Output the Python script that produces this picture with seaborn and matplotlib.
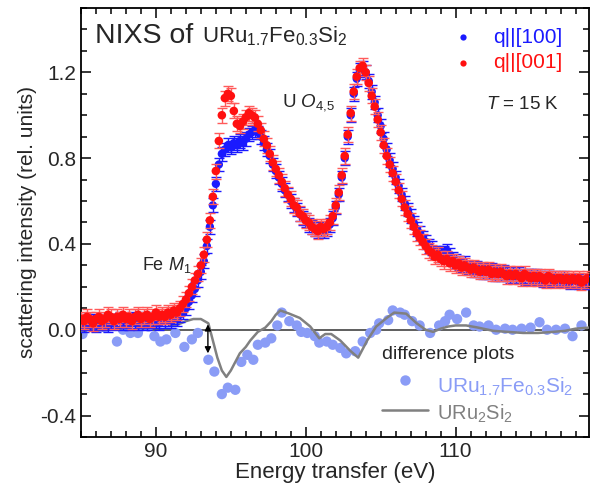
import numpy as np
import pandas as pd
import matplotlib
matplotlib.use("Agg")
import matplotlib.pyplot as plt
from matplotlib.ticker import MultipleLocator
import seaborn as sns

# ---------------- data ----------------
energy = [round(85.0 + 0.2 * i, 1) for i in range(170)]

q001 = [0.05, 0.04, 0.06, 0.05, 0.03, 0.05, 0.06, 0.04, 0.05, 0.07,
        0.06, 0.04, 0.06, 0.05, 0.07, 0.05, 0.06, 0.04, 0.06, 0.07,
        0.05, 0.06, 0.07, 0.05, 0.06, 0.08, 0.06, 0.07, 0.06, 0.08,
        0.07, 0.09, 0.08, 0.10, 0.12, 0.14, 0.17, 0.20, 0.23, 0.26,
        0.30, 0.35, 0.42, 0.51, 0.62, 0.74, 0.88, 1.00, 1.08, 1.10,
        1.09, 1.02, 0.96, 0.95, 0.97, 0.99, 1.01, 1.00, 0.99, 0.96,
        0.93, 0.89, 0.86, 0.82, 0.78, 0.75, 0.72, 0.69, 0.66, 0.63,
        0.61, 0.58, 0.57, 0.54, 0.53, 0.51, 0.50, 0.48, 0.47, 0.46,
        0.48, 0.47, 0.48, 0.50, 0.53, 0.58, 0.64, 0.72, 0.81, 0.91,
        1.01, 1.11, 1.18, 1.22, 1.23, 1.20, 1.15, 1.09, 1.04, 0.98,
        0.92, 0.86, 0.81, 0.77, 0.73, 0.69, 0.65, 0.61, 0.57, 0.54,
        0.51, 0.48, 0.45, 0.43, 0.41, 0.39, 0.37, 0.36, 0.34, 0.35,
        0.33, 0.32, 0.33, 0.31, 0.32, 0.30, 0.31, 0.29, 0.30, 0.29,
        0.28, 0.29, 0.28, 0.27, 0.28, 0.27, 0.28, 0.26, 0.27, 0.26,
        0.27, 0.26, 0.25, 0.26, 0.25, 0.26, 0.25, 0.24, 0.26, 0.25,
        0.24, 0.25, 0.24, 0.25, 0.24, 0.23, 0.25, 0.24, 0.23, 0.24,
        0.24, 0.23, 0.24, 0.23, 0.24, 0.23, 0.24, 0.22, 0.23, 0.24]

q100 = [0.03, 0.02, 0.04, 0.03, 0.04, 0.02, 0.03, 0.04, 0.03, 0.02,
        0.04, 0.03, 0.04, 0.05, 0.03, 0.04, 0.03, 0.05, 0.04, 0.03,
        0.04, 0.05, 0.03, 0.04, 0.05, 0.04, 0.03, 0.05, 0.04, 0.05,
        0.04, 0.06, 0.05, 0.07, 0.08, 0.10, 0.13, 0.16, 0.19, 0.23,
        0.27, 0.32, 0.39, 0.48, 0.58, 0.68, 0.77, 0.82, 0.84, 0.86,
        0.85, 0.87, 0.86, 0.88, 0.87, 0.89, 0.91, 0.92, 0.93, 0.92,
        0.90, 0.87, 0.84, 0.81, 0.77, 0.74, 0.71, 0.68, 0.65, 0.63,
        0.60, 0.58, 0.56, 0.54, 0.52, 0.51, 0.49, 0.48, 0.47, 0.46,
        0.47, 0.46, 0.47, 0.49, 0.52, 0.57, 0.63, 0.71, 0.80, 0.90,
        1.00, 1.10, 1.17, 1.21, 1.22, 1.20, 1.16, 1.11, 1.06, 1.00,
        0.95, 0.89, 0.84, 0.79, 0.75, 0.71, 0.67, 0.63, 0.59, 0.56,
        0.53, 0.50, 0.47, 0.45, 0.43, 0.41, 0.39, 0.38, 0.36, 0.36,
        0.35, 0.36, 0.37, 0.35, 0.33, 0.32, 0.31, 0.30, 0.31, 0.29,
        0.29, 0.28, 0.29, 0.28, 0.27, 0.28, 0.27, 0.28, 0.26, 0.27,
        0.26, 0.27, 0.26, 0.25, 0.26, 0.25, 0.26, 0.25, 0.24, 0.25,
        0.25, 0.24, 0.25, 0.24, 0.23, 0.24, 0.24, 0.23, 0.24, 0.23,
        0.23, 0.24, 0.23, 0.22, 0.23, 0.23, 0.22, 0.23, 0.22, 0.22]

err_q001 = 0.035
err_q100 = 0.032

diff_energy = [85.1, 85.8, 86.6, 87.4, 87.8, 88.3, 88.8, 89.5, 89.9, 90.3,
               90.7, 91.3, 91.9, 92.4, 92.8, 93.5, 93.9, 94.4, 94.8, 95.3,
               95.7, 96.1, 96.5, 96.8, 97.3, 97.7, 98.1, 98.4, 98.9, 99.4,
               99.7, 100.1, 100.6, 100.9, 101.4, 101.8, 102.3, 102.7, 103.3, 103.8,
               104.3, 104.7, 104.9, 105.5, 105.8, 106.3, 106.6, 107.1, 107.6, 108.3,
               108.9, 109.3, 109.6, 110.1, 110.7, 111.2, 111.6, 112.2, 112.7, 113.3,
               113.8, 114.4, 115.0, 115.6, 116.1, 116.7, 117.3, 117.8, 118.4]
diff_fe = [-0.02, 0.01, 0.01, -0.055, 0.0, -0.015, -0.015, 0.015, -0.03, -0.055,
           -0.045, -0.015, -0.08, -0.045, -0.015, -0.14, -0.195, -0.30, -0.27, -0.28,
           -0.15, -0.117, -0.14, -0.07, -0.06, -0.04, 0.02, 0.08, 0.04, 0.02,
           -0.01, -0.015, -0.03, -0.06, -0.055, -0.07, -0.085, -0.11, -0.10, -0.055,
           -0.015, 0.0, 0.03, 0.045, 0.09, 0.08, 0.07, 0.04, 0.02, -0.015,
           0.02, 0.04, 0.07, 0.05, 0.08, 0.02, 0.015, 0.02, 0.0, 0.005,
           0.0, 0.005, 0.01, 0.035, 0.0, 0.0, 0.005, -0.03, 0.02]

ref_energy = [85.0, 85.5, 86.0, 86.5, 87.0, 87.5, 88.0, 88.5, 89.0, 89.5,
              90.0, 90.5, 91.0, 91.5, 92.0, 92.5, 93.0, 93.5, 93.8, 94.1,
              94.4, 94.7, 95.0, 95.3, 95.6, 96.0, 96.3, 96.8, 97.3, 97.7,
              98.0, 98.3, 98.9, 99.6, 100.3, 100.9, 101.3, 101.7, 102.3, 103.0,
              103.5, 104.1, 104.7, 105.4, 105.9, 106.7, 107.4, 108.0, 108.5, 109.0,
              109.5, 110.0, 110.7, 111.5, 112.5, 113.5, 114.5, 115.5, 116.5, 117.3,
              118.0, 118.9]
ref_uru2si2 = [-0.01, 0.0, -0.005, 0.0, 0.005, 0.0, 0.015, 0.02, 0.01, 0.035,
               0.015, 0.04, 0.02, 0.025, 0.04, 0.05, 0.05, 0.03, -0.05, -0.13,
               -0.19, -0.22, -0.19, -0.15, -0.11, -0.08, -0.05, -0.01, 0.01, 0.04,
               0.07, 0.09, 0.075, 0.055, 0.015, -0.04, -0.02, -0.02, -0.05, -0.10,
               -0.13, -0.05, 0.015, 0.055, 0.08, 0.075, 0.03, 0.0, -0.01, 0.005,
               0.015, 0.02, 0.02, 0.01, -0.005, -0.01, -0.015, -0.015, -0.01, -0.005,
               0.005, 0.01]

xticks = [90, 100, 110]
yticks = [-0.4, 0.0, 0.4, 0.8, 1.2]

# ---------------- style ----------------
sns.set_theme(style="ticks")
plt.rcParams["font.family"] = ["Liberation Sans", "DejaVu Sans"]
plt.rcParams["mathtext.fontset"] = "custom"
plt.rcParams["mathtext.rm"] = "Liberation Sans"
plt.rcParams["mathtext.it"] = "Liberation Sans:italic"
plt.rcParams["mathtext.bf"] = "Liberation Sans:bold"

BLUE = "#1a1aff"
RED = "#ff1010"
RED_ERR = "#ff5a5a"
LBLUE = "#8a9cf6"
GREY = "#808080"

fig = plt.figure(figsize=(5.95, 4.93), dpi=100)
ax = fig.add_axes([0.1361, 0.1136, 0.9899 - 0.1361, 0.9838 - 0.1136])

main = pd.DataFrame({"E": energy, "q100": q100, "q001": q001})
diff = pd.DataFrame({"E": diff_energy, "d": diff_fe})
ref = pd.DataFrame({"E": ref_energy, "d": ref_uru2si2})

ax.axhline(0, color="#333333", lw=1.1, zorder=1)

sns.scatterplot(data=diff, x="E", y="d", color=LBLUE, s=55, edgecolor="none",
                ax=ax, zorder=2, legend=False)
sns.lineplot(data=ref, x="E", y="d", color=GREY, lw=1.8, ax=ax, zorder=3,
             legend=False, sort=False)

ax.errorbar(main["E"], main["q100"], yerr=err_q100, fmt="none", ecolor=BLUE,
            elinewidth=1.0, capsize=3.5, capthick=1.0, zorder=4)
sns.scatterplot(data=main, x="E", y="q100", color=BLUE, s=36, edgecolor="none",
                ax=ax, zorder=5, legend=False)
ax.errorbar(main["E"], main["q001"], yerr=err_q001, fmt="none", ecolor=RED_ERR,
            elinewidth=1.0, capsize=3.5, capthick=1.0, zorder=6)
sns.scatterplot(data=main, x="E", y="q001", color=RED, s=38, edgecolor="none",
                ax=ax, zorder=7, legend=False)

ax.annotate("", xy=(93.47, -0.11), xytext=(93.47, 0.025),
            arrowprops=dict(arrowstyle="<|-|>", color="black", lw=1.0,
                            mutation_scale=9, shrinkA=0, shrinkB=0), zorder=8)

ax.set_xlim(85, 118.9)
ax.set_ylim(-0.5, 1.5)
ax.set_xticks(xticks)
ax.set_yticks(yticks)
ax.set_yticklabels([f"{v:.1f}" for v in yticks])
ax.xaxis.set_minor_locator(MultipleLocator(1))
ax.yaxis.set_minor_locator(MultipleLocator(0.1))
ax.tick_params(which="both", direction="in", top=True, right=True,
               labelsize=15, width=1.1, color="black")
ax.tick_params(which="major", length=7)
ax.tick_params(which="minor", length=4)
for s in ax.spines.values():
    s.set_linewidth(1.3)
    s.set_color("black")

ax.set_xlabel("Energy transfer (eV)", fontsize=16, labelpad=1)
ax.set_ylabel("scattering intensity (rel. units)", fontsize=15, labelpad=2)

# ---------------- annotations ----------------
ax.text(85.93, 1.338, "NIXS of", fontsize=20.5, va="baseline", ha="left")
ax.text(93.07, 1.338, r"URu$_{1.7}$Fe$_{0.3}$Si$_2$", fontsize=16,
        va="baseline", ha="left")
ax.text(98.4, 1.04, r"U $O_{4{,}5}$", fontsize=13.5, va="baseline", ha="left")
ax.text(89.07, 0.279, r"Fe $M_1$", fontsize=13, va="baseline", ha="left")
ax.text(112.0, 1.049, r"$T$ = 15 K", fontsize=13.5, va="center", ha="left")

ax.plot([110.47], [1.367], "o", color=BLUE, ms=4.5, mec="none")
ax.text(112.47, 1.362, "q||[100]", fontsize=15, color=BLUE,
        va="center", ha="left")
ax.plot([110.47], [1.245], "o", color=RED, ms=4.5, mec="none")
ax.text(112.47, 1.245, "q||[001]", fontsize=15, color=RED,
        va="center", ha="left")

ax.text(105.07, -0.117, "difference plots", fontsize=14, va="center",
        ha="left")
ax.plot([106.6], [-0.234], "o", color=LBLUE, ms=7.5, mec="none")
ax.text(108.73, -0.295, r"URu$_{1.7}$Fe$_{0.3}$Si$_2$", fontsize=15,
        color=LBLUE, va="baseline", ha="left")
ax.plot([105.07, 108.13], [-0.374, -0.374], color=GREY, lw=1.8)
ax.text(108.73, -0.42, r"URu$_2$Si$_2$", fontsize=14.5, color=GREY,
        va="baseline", ha="left")

fig.savefig("out.png", dpi=100)
